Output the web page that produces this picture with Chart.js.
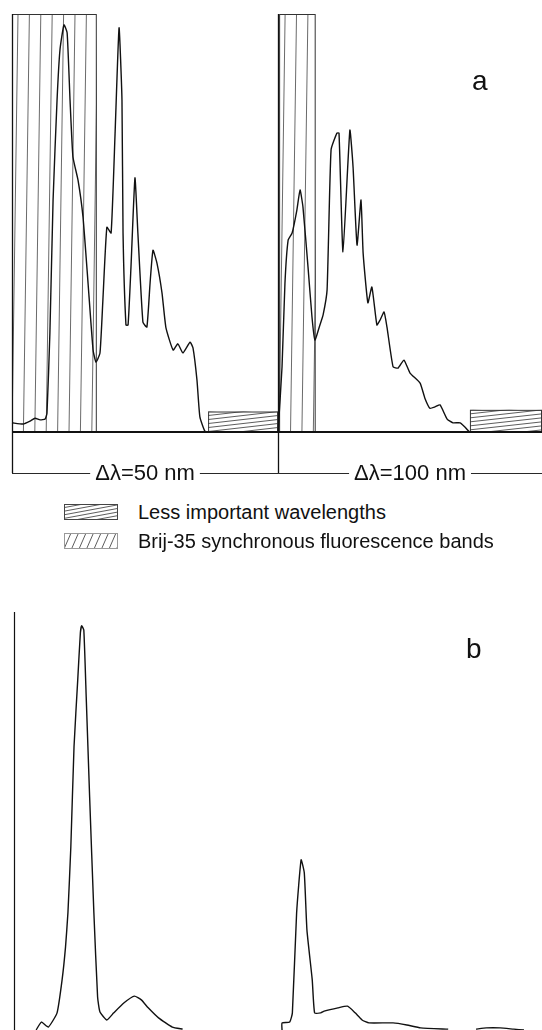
<!DOCTYPE html>
<html>
<head>
<meta charset="utf-8">
<script src="https://cdn.jsdelivr.net/npm/chart.js@4.4.0/dist/chart.umd.min.js"></script>
<style>
    body { margin: 0; background: #fff; width: 542px; height: 1030px; position: relative; overflow: hidden;
           font-family: "Liberation Sans", Arial, sans-serif; color: #111; }
    #chartA { position: absolute; left: 0; top: 0; }
    #chartB { position: absolute; left: 0; top: 560px; }
    .leg { position: absolute; left: 64px; height: 20px; display: flex; align-items: center; font-size: 20px; white-space: nowrap; }
    .leg canvas { margin-right: 20px; }
</style>
</head>
<body>
<canvas id="chartA" width="542" height="495"></canvas>
<div class="leg" style="top:502px"><canvas id="legLess" width="54" height="16"></canvas>Less important wavelengths</div>
<div class="leg" style="top:531px"><canvas id="legBrij" width="54" height="16"></canvas>Brij-35 synchronous fluorescence bands</div>
<canvas id="chartB" width="542" height="470"></canvas>

<script>
// Escala x: 0-100 = Δλ 50 nm, 100-200 = Δλ 100 nm ; y: intensitat relativa 0-100
const a50X  = [0, 4.2, 6.8, 8.7, 10.6, 12.5, 13.2, 14.3, 15.5, 17, 18.1, 19.6, 20.8, 21.9, 23, 24.9, 26.8, 28.7, 30.6, 31.7,
               33.2, 34.3, 35.8, 37.4, 38.9, 40.4, 41.5, 41.9, 43, 43.8, 44.9, 46.4, 47.5, 49.4, 50.9, 52.1, 53.2, 54.7, 56.6, 58.1,
               60.8, 62.6, 64.5, 67.2, 68.3, 69.8, 70.9, 72.8, 74.7, 100];
const a50Y  = [2.2, 1.9, 2.6, 3.3, 2.9, 3.1, 4.5, 23.7, 55.5, 79.4, 91.4, 97.4, 95.5, 79.4, 65.8, 60.3, 51.4, 35.6, 19.6, 16.7,
               18.9, 31.6, 49, 47.6, 71.5, 96.7, 79.4, 47.6, 25.6, 25.6, 39.5, 60.8, 47.6, 26.3, 25.1, 35.6, 43.5, 40.4, 33.3, 24.9,
               19.6, 21.1, 18.9, 21.5, 20.1, 12.4, 3.6, 0.2, 0, 0];
const a100X = [100.4, 101.9, 103, 104.2, 105.7, 107.5, 108.7, 109.8, 111.7, 113.2, 114.3, 116.2, 117.4, 118.9, 120.4,
               122.6, 123.4, 124.9, 127.5, 128.7, 130.2, 131.7, 132.5, 134.3, 135.8, 137.7, 138.9, 140.4, 141.5, 143.8,
               145.7, 147.9, 150.2, 154, 155.8, 157.7, 159.6, 161.5, 164.2, 166.4, 169.1, 170.9, 172.8, 200];
const a100Y = [0, 15.6, 35.6, 45.9, 47.6, 53.1, 57.9, 53.8, 39.5, 27.5, 22, 25.6, 28, 34, 67.5,
               71.5, 71.5, 43.1, 72.2, 63.4, 44.7, 55.5, 42.8, 30.9, 34.7, 25.6, 26.8, 28.7, 25.1, 15.6,
               15.3, 17.2, 14.1, 11.7, 8.1, 5.7, 6, 6.5, 3.1, 2.2, 2.2, 1.2, 0, 0];

const b1X = [9.1, 11.1, 13.7, 17, 18.9, 20.2, 21.1, 22.2, 23.4, 24.8, 25.8, 26.3, 27.1, 28, 29.3, 30.9, 32.3, 33.2,
             35.8, 38.4, 42.3, 46.2, 48.8, 51.4, 55.3, 60.5, 64.4];
const b1Y = [0, 1.9, 0.7, 4.1, 12, 19.9, 28, 43.8, 67.7, 83.7, 95, 96.7, 95.7, 79.7, 55.7, 28, 7.9, 4.3,
             2.4, 4.1, 6.5, 8.1, 7.2, 5.3, 2.9, 0.7, 0.2];
const b2X = [101.9, 101.9, 104.8, 105.8, 107.4, 109.1, 110.3, 111.3, 113.3, 114.2, 116.5, 117.8, 123, 126.6, 129.5,
             132.1, 134.7, 143.8, 149, 154.2, 164.6, 170, 175.1, 179, 184.2, 189.4, 193.2];
const b2Y = [0, 1.7, 1.9, 4.1, 28, 40.7, 37.6, 23.9, 12, 4.1, 4.1, 4.5, 5.3, 5.7, 4.1,
             2.4, 1.7, 1.7, 1.2, 0.5, 0.2, null, 0.2, 0.5, 0.5, 0.2, 0];

// Bandes ratllades: [x inici, x final, alçada]
const brijBands = [[0, 32, 100], [100.8, 114.6, 100]];
const lessBands = [[74, 100.4, 4.9], [172.8, 200, 5.3]];
const panelEdges = [0, 100.4, 200];
const panelLabels = ['\u0394\u03bb=50 nm', '\u0394\u03bb=100 nm'];

const INK = '#111';
const FONT = '"Liberation Sans", Arial, sans-serif';

const pts = (xs, ys) => xs.map((x, i) => ({ x, y: ys[i] }));

// Ratllat gairebé vertical (/) dins d'un rectangle
function hatchSteep(ctx, l, t, r, b, gap, lean, color, lw) {
    ctx.save();
    ctx.beginPath(); ctx.rect(l, t, r - l, b - t); ctx.clip();
    ctx.strokeStyle = color; ctx.lineWidth = lw;
    ctx.beginPath();
    for (let x = l - Math.ceil(lean / gap) * gap; x < r + gap; x += gap) {
        ctx.moveTo(x, b); ctx.lineTo(x + lean, t);
    }
    ctx.stroke();
    ctx.restore();
}

// Ratllat pla, lleugerament ascendent
function hatchFlat(ctx, l, t, r, b, gap, rise, color, lw) {
    ctx.save();
    ctx.beginPath(); ctx.rect(l, t, r - l, b - t); ctx.clip();
    ctx.strokeStyle = color; ctx.lineWidth = lw;
    ctx.beginPath();
    for (let y = t; y < b + rise + gap; y += gap) {
        ctx.moveTo(l, y); ctx.lineTo(r, y - rise);
    }
    ctx.stroke();
    ctx.restore();
}

function line(ctx, x0, y0, x1, y1, w) {
    ctx.save();
    ctx.strokeStyle = INK; ctx.lineWidth = w;
    ctx.beginPath(); ctx.moveTo(x0, y0); ctx.lineTo(x1, y1); ctx.stroke();
    ctx.restore();
}

const decorA = {
    id: 'decorA',
    beforeDatasetsDraw(chart) {
        const { ctx, scales: { x, y } } = chart;
        brijBands.forEach(([x0, x1, h]) => {
            const l = x.getPixelForValue(x0), r = x.getPixelForValue(x1);
            const t = y.getPixelForValue(h), b = y.getPixelForValue(0);
            hatchSteep(ctx, l, t, r, b, 11.4, 6, '#444', 0.8);
            ctx.save(); ctx.strokeStyle = '#333'; ctx.lineWidth = 1;
            ctx.strokeRect(l + 0.5, t + 0.5, r - l - 1, b - t);
            ctx.restore();
        });
        lessBands.forEach(([x0, x1, h]) => {
            const l = x.getPixelForValue(x0), r = x.getPixelForValue(x1);
            const t = y.getPixelForValue(h), b = y.getPixelForValue(0);
            hatchFlat(ctx, l, t, r, b, 4, 8, '#333', 0.8);
            ctx.save(); ctx.strokeStyle = '#333'; ctx.lineWidth = 1;
            ctx.strokeRect(l + 0.5, t + 0.5, r - l - 1, b - t);
            ctx.restore();
        });
    },
    afterDraw(chart) {
        const { ctx, chartArea: ca, scales: { x, y } } = chart;
        const base = y.getPixelForValue(0);
        const top = y.getPixelForValue(100);
        const brY = ca.bottom + 41;
        line(ctx, ca.left, base, ca.right, base, 2);
        panelEdges.slice(0, 2).forEach(v => {
            const px = Math.round(x.getPixelForValue(v)) + 0.5;
            line(ctx, px, top, px, brY, 1.3);
        });
        ctx.save();
        ctx.font = '22px ' + FONT;
        ctx.fillStyle = INK;
        ctx.textAlign = 'center';
        ctx.textBaseline = 'middle';
        panelLabels.forEach((txt, i) => {
            const l = x.getPixelForValue(panelEdges[i]);
            const r = x.getPixelForValue(panelEdges[i + 1]);
            const c = (l + r) / 2;
            const w = ctx.measureText(txt).width;
            ctx.fillText(txt, c, brY + 1);
            line(ctx, l, brY + 0.5, c - w / 2 - 5, brY + 0.5, 0.9);
            line(ctx, c + w / 2 + 5, brY + 0.5, r, brY + 0.5, 0.9);
        });
        ctx.font = '28px ' + FONT;
        ctx.textAlign = 'left';
        ctx.textBaseline = 'alphabetic';
        ctx.fillText('a', ca.right - 70, ca.top + 76);
        ctx.restore();
    }
};

const decorB = {
    id: 'decorB',
    afterDraw(chart) {
        const { ctx, chartArea: ca, scales: { x, y } } = chart;
        const px = Math.round(x.getPixelForValue(0)) + 2.5;
        line(ctx, px, y.getPixelForValue(100), px, ca.bottom, 1.2);
        ctx.save();
        ctx.font = '28px ' + FONT;
        ctx.fillStyle = INK;
        ctx.fillText('b', ca.right - 76, ca.top + 46);
        ctx.restore();
    }
};

function lineDs(data) {
    return {
        data, borderColor: INK, borderWidth: 1.4, pointRadius: 0,
        tension: 0.15, spanGaps: false, clip: false, fill: false
    };
}

function baseOptions(padding) {
    return {
        responsive: false,
        animation: false,
        layout: { padding },
        plugins: { legend: { display: false }, tooltip: { enabled: false } },
        scales: {
            x: { type: 'linear', min: 0, max: 200, display: false },
            y: { type: 'linear', min: 0, max: 100, display: false }
        }
    };
}

new Chart(document.getElementById('chartA'), {
    type: 'line',
    data: { datasets: [lineDs(pts(a50X, a50Y)), lineDs(pts(a100X, a100Y))] },
    options: baseOptions({ left: 12, right: 0, top: 14, bottom: 63 }),
    plugins: [decorA]
});

new Chart(document.getElementById('chartB'), {
    type: 'line',
    data: { datasets: [lineDs(pts(b1X, b1Y)), lineDs(pts(b2X, b2Y))] },
    options: baseOptions({ left: 12, right: 0, top: 52, bottom: 0 }),
    plugins: [decorB]
});

// Mostres de la llegenda
(function () {
    const c1 = document.getElementById('legLess').getContext('2d');
    hatchFlat(c1, 0, 0, 54, 16, 3.6, 10, '#333', 0.8);
    c1.strokeStyle = '#444'; c1.lineWidth = 1; c1.strokeRect(0.5, 0.5, 53, 15);
    const c2 = document.getElementById('legBrij').getContext('2d');
    hatchSteep(c2, 0, 0, 54, 16, 7.5, 7, '#333', 0.8);
    c2.strokeStyle = '#999'; c2.lineWidth = 1; c2.strokeRect(0.5, 0.5, 53, 15);
})();
</script>
</body>
</html>
